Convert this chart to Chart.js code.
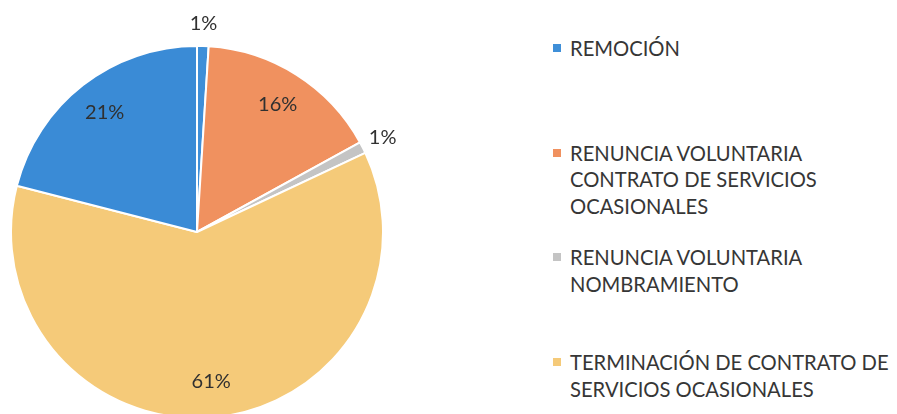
<!DOCTYPE html>
<html>
<head>
<meta charset="utf-8">
<script src="https://cdn.jsdelivr.net/npm/chart.js@4"></script>
<style>
  html, body { margin: 0; padding: 0; background: #fff; overflow: hidden; }
  body { width: 897px; height: 414px; position: relative; }
  #wrap { position: absolute; left: 0; top: 0; width: 540px; height: 419px; }
  #legend { position: absolute; left: 553px; top: 35px; font-family: Lato, sans-serif; font-size: 20.2px; color: #363636; }
  .item { display: flex; align-items: flex-start; height: 104.7px; }
  .box { width: 8px; height: 8px; margin-top: 9px; margin-right: 9px; flex: none; }
  .txt { width: 330px; line-height: 26.5px; }
</style>
</head>
<body>
<div id="wrap"><canvas id="pie" width="540" height="419"></canvas></div>
<div id="legend"></div>
<script>
const categorias = [
    'REMOCIÓN',
    'RENUNCIA VOLUNTARIA CONTRATO DE SERVICIOS OCASIONALES',
    'RENUNCIA VOLUNTARIA NOMBRAMIENTO',
    'TERMINACIÓN DE CONTRATO DE SERVICIOS OCASIONALES',
    'OTROS'
]
const porcentajes = [1, 16, 1, 61, 21]
const colores = ['#3f8fd8', '#f0915f', '#c4c4c4', '#f5ca79', '#3a8bd6']

const labelsPlugin = {
    id: 'labelsPlugin',
    afterDatasetsDraw(chart) {
        const ctx = chart.ctx
        const meta = chart.getDatasetMeta(0)
        ctx.save()
        ctx.font = '20px Lato, sans-serif'
        ctx.fillStyle = '#303030'
        ctx.textAlign = 'center'
        ctx.textBaseline = 'middle'
        meta.data.forEach(function (arc, i) {
            const p = arc.getProps(['x', 'y', 'startAngle', 'endAngle', 'outerRadius'], true)
            const mid = (p.startAngle + p.endAngle) / 2
            const small = porcentajes[i] < 5
            const r = small ? p.outerRadius * 1.12 : p.outerRadius * 0.81
            ctx.fillText(porcentajes[i] + '%', p.x + Math.cos(mid) * r, p.y + Math.sin(mid) * r)
        })
        ctx.restore()
    }
}

const PIE = document.getElementById('pie')
const chart = new Chart(PIE, {
    type: 'pie',
    data: {
        labels: categorias,
        datasets: [{
            data: porcentajes,
            backgroundColor: colores,
            borderColor: '#ffffff',
            borderWidth: 2
        }]
    },
    options: {
        responsive: false,
        animation: false,
        layout: { padding: { top: 45, left: 10, right: 156, bottom: 0 } },
        plugins: {
            legend: { display: false },
            tooltip: { enabled: false }
        }
    },
    plugins: [labelsPlugin]
})

// leyenda a la derecha
const legend = document.getElementById('legend')
categorias.forEach(function (c, i) {
    const item = document.createElement('div')
    item.className = 'item'
    item.innerHTML = '<span class="box" style="background:' + colores[i] + '"></span><span class="txt">' + c + '</span>'
    legend.appendChild(item)
})
</script>
</body>
</html>
